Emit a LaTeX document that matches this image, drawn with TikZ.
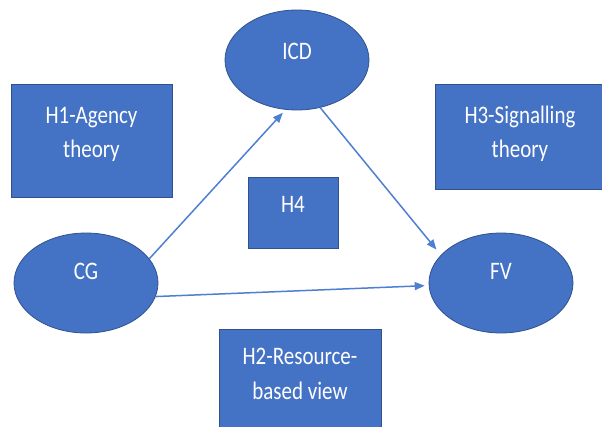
\documentclass[tikz,border=0pt]{standalone}
\usepackage{fontspec}
\setmainfont{Carlito}
\usetikzlibrary{arrows.meta,shapes.geometric}
\definecolor{boxblue}{HTML}{4472C4}
\definecolor{edgeblue}{HTML}{2F528F}
\definecolor{arrowblue}{HTML}{4F7FD0}
\newcommand{\lbltext}[1]{\scalebox{1}[1.2]{\begin{tabular}{@{}c@{}}#1\end{tabular}}}
\tikzset{
  shapebase/.style={fill=boxblue, draw=edgeblue, line width=0.8pt, inner sep=0pt},
  ell/.style={shapebase, ellipse, minimum width=144pt, minimum height=100pt},
  boxnode/.style={shapebase, rectangle},
  lbl/.style={text=white, font=\fontsize{21}{29}\selectfont, inner sep=0pt},
  conn/.style={draw=arrowblue, line width=1.5pt, -{Triangle[length=10pt,width=8pt]}}
}
\begin{document}
\begin{tikzpicture}[x=1pt,y=-1pt]
\useasboundingbox (0,0) rectangle (602,426);
\clip (0,0) rectangle (602,426);
% boxes
\node[boxnode, minimum width=161pt, minimum height=113pt,
  label={[lbl,yshift=7pt]center:\lbltext{H1-Agency\\theory}}] (h1) at (91.5,140.5) {};
\node[boxnode, minimum width=170pt, minimum height=105pt,
  label={[lbl,yshift=3pt]center:\lbltext{H3-Signalling\\theory}}] (h3) at (520,136.5) {};
\node[boxnode, minimum width=90pt, minimum height=71pt,
  label={[lbl,yshift=7pt]center:\lbltext{H4}}] (h4) at (293,212.5) {};
\node[boxnode, minimum width=162pt, minimum height=100pt,
  label={[lbl,yshift=4pt]center:\lbltext{H2-Resource-\\based view}}] (h2) at (300,379) {};
% ellipses
\node[ell, label={[lbl,yshift=7pt]center:\lbltext{ICD}}] (icd) at (297,60) {};
\node[ell, label={[lbl,yshift=10pt]center:\lbltext{CG}}] (cg) at (86,283) {};
\node[ell, label={[lbl,yshift=10pt]center:\lbltext{FV}}] (fv) at (501,283) {};
% connectors
\draw[conn, shorten >=4pt] (cg.21) -- (icd.257);
\draw[conn, shorten >=7pt] (icd.296) -- (fv.155);
\draw[conn, shorten >=4pt] (cg.349) -- (fv.182);
\end{tikzpicture}
\end{document}
